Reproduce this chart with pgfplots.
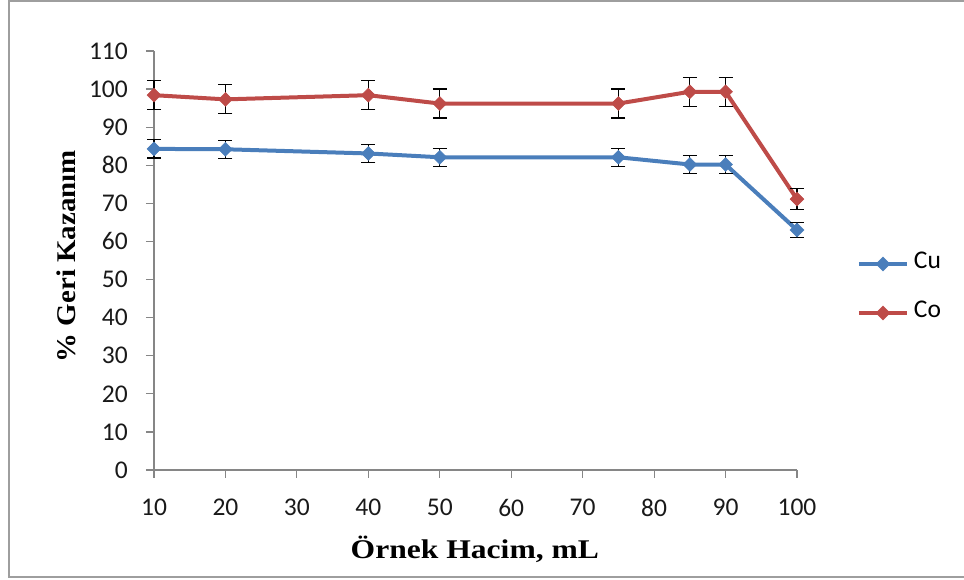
\documentclass[border=0pt]{standalone}
\usepackage{fontspec}
\setmainfont{Liberation Serif}
\newfontfamily\calibri{Carlito}
\usepackage{pgfplots}
\pgfplotsset{compat=1.18}
\definecolor{cublue}{HTML}{4A7EBB}
\definecolor{cored}{HTML}{BE4B48}
\definecolor{axgray}{HTML}{868686}
\begin{document}
\begin{tikzpicture}
\path[use as bounding box] (0pt,0pt) rectangle (964pt,580pt);
% chart frame
\draw[axgray!80, line width=2pt] (970pt,579pt) -- (9pt,579pt) -- (9pt,3pt) -- (970pt,3pt);
\begin{axis}[
  at={(154pt,110pt)}, anchor=south west,
  scale only axis, width=643pt, height=419pt,
  xmin=10, xmax=100, ymin=0, ymax=110,
  xtick={10,20,...,100}, ytick={0,10,...,110},
  axis lines*=left,
  axis line style={axgray, line width=1.2pt},
  tick style={axgray, line width=1.2pt},
  tick align=outside,
  major tick length=8pt,
  /pgf/number format/assume math mode=true,
  ticklabel style={font=\calibri\fontsize{25.5}{30}\selectfont, text=black!90, inner sep=0pt},
  yticklabel style={anchor=east, xshift=-18pt},
  xticklabel style={anchor=north, yshift=-21pt},
  xlabel={\scalebox{1.17}[1]{\bfseries Örnek Hacim, mL}},
  ylabel={\scalebox{1.07}[1]{\bfseries \% Geri Kazanım}},
  label style={font=\fontsize{27}{30}\selectfont, inner sep=0pt},
  xlabel style={at={(axis description cs:0.499,-0.2124)}, anchor=base},
  ylabel style={at={(axis description cs:-0.137,0.51)}, anchor=center},
  legend style={at={(axis description cs:1.093,0.4332)}, anchor=west,
    draw=none, fill=none, inner sep=0pt, column sep=5pt, row sep=33pt,
    font=\calibri\fontsize{25.5}{30}\selectfont,
    nodes={inner sep=0pt, text height=13pt, text depth=3pt, anchor=west}},
  legend image code/.code={\draw[mark repeat=2, mark phase=2, #1]
    plot coordinates {(0pt,0pt) (24pt,0pt) (48pt,0pt)};},
  legend cell align=left,
  clip=false,
]
\addplot[cublue, line width=4pt, mark=square*, mark size=4.9pt,
  mark options={rotate=45, fill=cublue, draw=cublue, line width=0.5pt},
  error bars/.cd, y dir=both, y explicit,
  error mark=-, error mark options={black, line width=1.2pt, mark size=7pt, rotate=90},
  error bar style={black, line width=1.2pt}]
  coordinates {
  (10,84.3) +- (0,2.4)
  (20,84.2) +- (0,2.4)
  (40,83.1) +- (0,2.4)
  (50,82.1) +- (0,2.4)
  (75,82.1) +- (0,2.4)
  (85,80.2) +- (0,2.3)
  (90,80.2) +- (0,2.3)
  (100,63.0) +- (0,1.9)
  };
\addlegendentry{Cu}
\addplot[cored, line width=4pt, mark=square*, mark size=4.9pt,
  mark options={rotate=45, fill=cored, draw=cored, line width=0.5pt},
  error bars/.cd, y dir=both, y explicit,
  error mark=-, error mark options={black, line width=1.2pt, mark size=7pt, rotate=90},
  error bar style={black, line width=1.2pt}]
  coordinates {
  (10,98.4) +- (0,3.8)
  (20,97.3) +- (0,3.8)
  (40,98.4) +- (0,3.8)
  (50,96.2) +- (0,3.8)
  (75,96.2) +- (0,3.8)
  (85,99.3) +- (0,3.8)
  (90,99.3) +- (0,3.8)
  (100,71.1) +- (0,2.7)
  };
\addlegendentry{Co}
\end{axis}
\end{tikzpicture}
\end{document}
